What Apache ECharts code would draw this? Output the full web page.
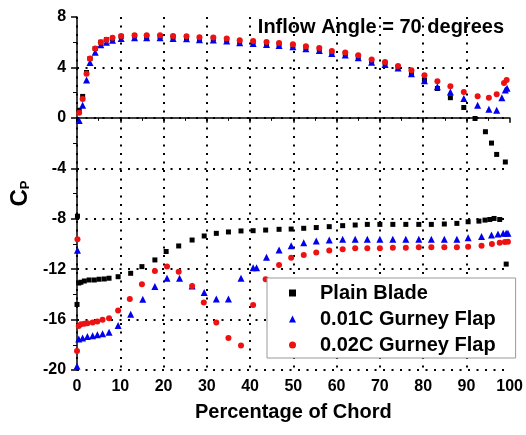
<!DOCTYPE html>
<html>
<head>
<meta charset="utf-8">
<script src="https://cdn.jsdelivr.net/npm/echarts@6/dist/echarts.min.js"></script>
<style>
  html, body { margin: 0; padding: 0; background: #fff; }
  #main { width: 526px; height: 435px; }
</style>
</head>
<body>
<div id="main"></div>
<script>
const FONT = 'Liberation Sans, Arial, sans-serif';

// upper surface (suction side)
const xUpper = [0.5, 1.3, 2.2, 3.0, 4.2, 5.5, 6.8, 8.2, 10.2, 13.3,
  16.1, 19.2, 22.2, 25.3, 28.3, 31.5, 34.6, 37.6, 40.7, 43.8,
  46.7, 49.9, 52.9, 56.0, 58.9, 62.0, 65.0, 68.1, 71.2, 74.2];
const xUpperPlainTail = [77.3, 80.3, 83.3, 86.3, 89.4, 92.0, 94.4, 95.8, 97.0, 99.0];
const xUpperFlap1Tail = [77.3, 80.3, 83.3, 86.3, 89.4, 92.6, 95.2, 97.0, 98.2, 99.0, 99.4];
const xUpperFlap2Tail = [77.3, 80.3, 83.3, 86.3, 89.4, 92.6, 95.2, 97.0, 98.7, 99.3];

const plainUpper = [0.6, 1.7, 3.6, 4.7, 5.5, 6.0, 6.2, 6.3, 6.45, 6.5,
  6.45, 6.45, 6.4, 6.37, 6.3, 6.27, 6.19, 6.05, 6.0, 5.92,
  5.84, 5.74, 5.58, 5.45, 5.2, 5.08, 4.87, 4.52, 4.34, 4.02,
  3.55, 3.0, 2.33, 1.6, 0.82, -0.05, -1.1, -2.0, -2.9, -3.5];
const flap1Upper = [-0.2, 1.0, 3.0, 4.4, 5.2, 5.8, 6.0, 6.15, 6.3, 6.35,
  6.35, 6.35, 6.3, 6.27, 6.2, 6.17, 6.09, 5.95, 5.9, 5.82,
  5.74, 5.64, 5.48, 5.35, 5.1, 4.98, 4.77, 4.42, 4.24, 3.95,
  3.5, 2.95, 2.46, 2.06, 1.53, 1.0, 0.69, 0.61, 1.6, 2.2, 2.35];
const flap2Upper = [0.4, 1.5, 3.5, 4.7, 5.5, 6.0, 6.2, 6.35, 6.5, 6.55,
  6.55, 6.55, 6.5, 6.47, 6.4, 6.37, 6.29, 6.15, 6.1, 6.02,
  5.94, 5.84, 5.68, 5.55, 5.3, 5.18, 4.97, 4.62, 4.44, 4.12,
  3.78, 3.38, 2.9, 2.5, 2.06, 1.72, 1.6, 1.88, 2.77, 3.0];

// lower surface (pressure side)
const xLowerPlain = [0, 0.1, 0.4, 0.9, 1.7, 2.8, 4.0, 5.1, 6.3, 7.4,
  9.5, 12.4, 15.0, 18.0, 20.6, 23.5, 26.6, 29.4, 32.2, 35.0,
  37.9, 40.7, 43.6, 46.7, 49.5, 52.4, 55.3, 58.3, 61.4, 64.3,
  67.1, 70.0, 73.0, 76.0, 79.0, 81.9, 84.9, 87.8, 90.4, 92.9,
  94.3, 95.4, 96.4, 97.7, 99.2];
const plainLower = [-14.8, -7.8, -13.1, -13.04, -12.94, -12.86, -12.86, -12.8, -12.78, -12.72,
  -12.6, -12.33, -11.8, -11.27, -10.6, -10.16, -9.69, -9.37, -9.16, -9.05,
  -8.97, -8.95, -8.9, -8.84, -8.82, -8.76, -8.7, -8.63, -8.55, -8.5,
  -8.45, -8.45, -8.45, -8.45, -8.45, -8.45, -8.42, -8.37, -8.24, -8.19,
  -8.11, -8.06, -7.98, -8.06, -11.6];

const xLowerFlap1 = [0, 0.1, 0.4, 1.3, 2.4, 3.6, 4.7, 5.9, 7.4, 9.5,
  12.4, 15.2, 18.0, 20.8, 23.7, 26.6, 29.4, 32.2, 35.0, 37.9,
  40.7, 41.5, 43.8, 46.7, 49.5, 52.4, 55.3, 58.3, 61.4, 64.3,
  67.1, 70.0, 73.0, 76.0, 79.0, 81.9, 84.9, 87.8, 90.4, 93.5,
  95.8, 97.3, 98.5, 99.2, 99.6];
const flap1Lower = [-19.7, -10.5, -17.55, -17.47, -17.35, -17.29, -17.21, -17.13, -17.0, -16.47,
  -15.57, -14.38, -13.38, -12.72, -12.72, -13.33, -13.86, -14.36, -14.36, -12.72,
  -11.88, -11.88, -11.06, -10.48, -10.14, -9.9, -9.77, -9.69, -9.63, -9.63,
  -9.63, -9.63, -9.63, -9.63, -9.63, -9.63, -9.63, -9.63, -9.5, -9.42,
  -9.29, -9.21, -9.16, -9.16, -9.16];

const xLowerFlap2 = [0, 0.1, 0.4, 0.9, 1.7, 2.4, 3.6, 4.7, 5.9, 7.4,
  9.5, 12.2, 15.0, 18.0, 20.8, 23.5, 26.6, 29.3, 32.2, 35.0,
  37.9, 40.7, 43.6, 46.7, 49.5, 52.4, 55.3, 58.3, 61.4, 64.3,
  67.1, 70.0, 73.0, 76.0, 79.0, 81.9, 84.9, 87.8, 90.4, 93.5,
  95.9, 97.7, 98.9, 99.6];
const flap2Lower = [-18.5, -9.63, -16.5, -16.37, -16.34, -16.29, -16.24, -16.16, -16.02, -15.89,
  -15.29, -14.36, -13.2, -12.14, -11.8, -12.2, -13.33, -14.65, -16.24, -17.47,
  -18.06, -14.84, -12.8, -11.67, -11.09, -10.88, -10.67, -10.53, -10.42, -10.35,
  -10.35, -10.35, -10.3, -10.3, -10.26, -10.26, -10.26, -10.26, -10.22, -10.14,
  -10.0, -9.9, -9.84, -9.82];

const seriesNames = ['Plain Blade', '0.01C Gurney Flap', '0.02C Gurney Flap'];

function zip(xs, ys) {
  return xs.map((x, i) => [x, ys[i]]);
}

const plainData = zip(xUpper.concat(xUpperPlainTail), plainUpper).concat(zip(xLowerPlain, plainLower));
const flap1Data = zip(xUpper.concat(xUpperFlap1Tail), flap1Upper).concat(zip(xLowerFlap1, flap1Lower));
const flap2Data = zip(xUpper.concat(xUpperFlap2Tail), flap2Upper).concat(zip(xLowerFlap2, flap2Lower));

const chart = echarts.init(document.getElementById('main'));

const gridLine = {
  show: true,
  showMaxLine: false,
  lineStyle: { color: '#000', width: 2, type: [2, 6.5] },
};

chart.setOption({
  animation: false,
  textStyle: { fontFamily: FONT },
  title: {
    text: 'Inflow Angle = 70 degrees',
    right: 17,
    top: 12,
    textStyle: { fontSize: 20, fontWeight: 'bold', color: '#000', fontFamily: FONT },
  },
  legend: {
    left: 267,
    top: 278,
    orient: 'vertical',
    itemWidth: 7,
    itemHeight: 7,
    itemGap: 6,
    padding: [5, 20, 3, 22],
    borderColor: '#999',
    borderWidth: 1,
    backgroundColor: '#fff',
    data: seriesNames,
    textStyle: { fontSize: 20, fontWeight: 'bold', color: '#000', fontFamily: FONT, padding: [0, 0, 0, 19] },
  },
  grid: { left: 76, top: 17, width: 436, height: 353 },
  xAxis: {
    type: 'value',
    min: 0,
    max: 100,
    interval: 10,
    name: 'Percentage of Chord',
    nameLocation: 'middle',
    nameGap: 32,
    nameTextStyle: { fontSize: 20, fontWeight: 'bold', color: '#000', fontFamily: FONT },
    axisLine: { show: true, lineStyle: { color: '#000', width: 1.5 } },
    axisTick: { show: true, length: 5, lineStyle: { color: '#000', width: 1.5 } },
    minorTick: { show: true, splitNumber: 2, length: 3, lineStyle: { color: '#000', width: 1 } },
    axisLabel: { fontSize: 16, fontWeight: 'bold', color: '#000', margin: 9, fontFamily: FONT },
    splitLine: gridLine,
  },
  yAxis: {
    type: 'value',
    min: -20,
    max: 8,
    interval: 4,
    name: '{c|C}{p|P}',
    nameLocation: 'middle',
    nameGap: 34,
    nameRotate: 90,
    nameTextStyle: {
      rich: {
        c: { fontSize: 24, fontWeight: 'bold', color: '#000', fontFamily: FONT },
        p: { fontSize: 13, fontWeight: 'bold', color: '#000', fontFamily: FONT, verticalAlign: 'bottom', padding: [10, 0, 0, 0] },
      },
    },
    axisLine: { show: true, lineStyle: { color: '#000', width: 1.5 } },
    axisTick: { show: true, length: 6, lineStyle: { color: '#000', width: 1.5 } },
    minorTick: { show: true, splitNumber: 2, length: 4, lineStyle: { color: '#000', width: 1 } },
    axisLabel: { fontSize: 16, fontWeight: 'bold', color: '#000', margin: 11, fontFamily: FONT },
    splitLine: gridLine,
  },
  series: [
    {
      name: seriesNames[0],
      type: 'scatter',
      symbol: 'rect',
      symbolSize: 5,
      itemStyle: { color: '#000', opacity: 1 },
      data: plainData,
    },
    {
      name: seriesNames[1],
      type: 'scatter',
      symbol: 'triangle',
      symbolSize: 7,
      itemStyle: { color: '#0000ee', opacity: 1 },
      data: flap1Data,
    },
    {
      name: seriesNames[2],
      type: 'scatter',
      symbol: 'circle',
      symbolSize: 6,
      itemStyle: { color: '#ee1111', opacity: 1 },
      data: flap2Data,
    },
  ],
});
</script>
</body>
</html>
